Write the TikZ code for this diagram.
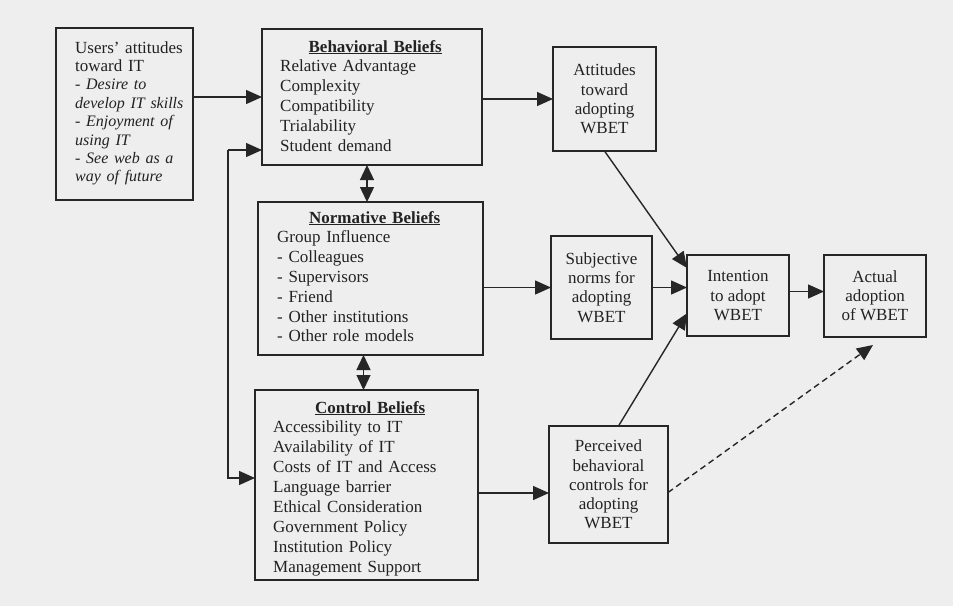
\documentclass[tikz,border=0pt]{standalone}
\usepackage{fontspec}
\setmainfont{Liberation Serif}
\usetikzlibrary{arrows.meta,calc}
\definecolor{linec}{HTML}{262626}
\definecolor{textc}{HTML}{222222}
\definecolor{bgc}{HTML}{EEEEEE}
\begin{document}
\begin{tikzpicture}[x=1pt,y=-1pt,
  box/.style={draw=linec, line width=1.5pt, inner sep=0pt, outer sep=0pt},
  sbox/.style={box, align=center, text=textc, font=\fontsize{17}{19.2}\selectfont},
  txt/.style={inner sep=0pt, anchor=base west, align=left, text=textc},
  arr/.style={draw=linec, line width=1.4pt, -{Triangle[length=16pt,width=14pt]}},
  dbl/.style={draw=linec, line width=1.4pt, {Triangle[length=15pt,width=14pt]}-{Triangle[length=15pt,width=14pt]}},
  dsh/.style={arr, dash pattern=on 6pt off 4pt}
]
\fill[bgc] (0,0) rectangle (953,606);
\useasboundingbox (0,0) rectangle (953,606);

% boxes
\node[box, minimum width=137pt, minimum height=172pt] (users) at (124.5,114) {};
\node[box, minimum width=220pt, minimum height=136pt] (beh) at (372,97) {};
\node[box, minimum width=225pt, minimum height=153pt] (norm) at (370.5,278.5) {};
\node[box, minimum width=223pt, minimum height=190pt] (ctl) at (366.5,485) {};

\node[sbox, minimum width=103pt, minimum height=104pt] (att) at (604.5,99) {Attitudes\\toward\\adopting\\WBET};
\node[sbox, minimum width=101pt, minimum height=103pt] (subj) at (601.5,287.5) {Subjective\\norms for\\adopting\\WBET};
\node[sbox, minimum width=102pt, minimum height=81pt] (int) at (738,295.5) {Intention\\to adopt\\WBET};
\node[sbox, minimum width=102pt, minimum height=82pt] (act) at (875,296) {Actual\\adoption\\of WBET};
\node[sbox, minimum width=119pt, minimum height=117pt] (perc) at (608.5,484.5) {Perceived\\behavioral\\controls for\\adopting\\WBET};

% texts of the large boxes
\node[txt, text width=125pt, font=\fontsize{17}{18.4}\selectfont] (usersT) at (75,53)
  {Users’ attitudes\\toward IT\\{\fontsize{16}{18.4}\selectfont\itshape - Desire to}\\{\fontsize{16}{18.4}\selectfont\itshape develop IT skills}\\{\fontsize{16}{18.4}\selectfont\itshape - Enjoyment of}\\{\fontsize{16}{18.4}\selectfont\itshape using IT}\\{\fontsize{16}{18.4}\selectfont\itshape - See web as a}\\{\fontsize{16}{18.4}\selectfont\itshape way of future}};
\node[txt, text width=190pt, font=\fontsize{17}{19.8}\selectfont] (behT) at (280,52)
  {\makebox[190pt][c]{\textbf{\underline{Behavioral Beliefs}}}\\Relative Advantage\\Complexity\\Compatibility\\Trialability\\Student demand};
\node[txt, text width=195pt, font=\fontsize{17}{19.8}\selectfont] (normT) at (277,223)
  {\makebox[195pt][c]{\textbf{\underline{Normative Beliefs}}}\\Group Influence\\- Colleagues\\- Supervisors\\- Friend\\- Other institutions\\- Other role models};
\node[txt, text width=194pt, font=\fontsize{17}{19.9}\selectfont] (ctlT) at (273,413)
  {\makebox[194pt][c]{\textbf{\underline{Control Beliefs}}}\\Accessibility to IT\\Availability of IT\\Costs of IT and Access\\Language barrier\\Ethical Consideration\\Government Policy\\Institution Policy\\Management Support};

% connectors
\draw[arr] (users.east |- beh.west) -- (beh.west);
\coordinate (vtop) at (228,150);
\coordinate (vbot) at (228,478);
\draw[arr] (vtop) -- (vtop -| beh.west);
\draw[arr] (vtop) -- (vbot) -- (vbot -| ctl.west);
\draw[arr] (beh.east |- att.west) -- (att.west);
\draw[arr] (norm.east |- subj.west) -- (subj.west);
\coordinate (cp) at (0,493);
\draw[arr] (ctl.east |- cp) -- (perc.west |- cp);
\coordinate (d1) at ($(beh.south)+(-5,0)$);
\draw[dbl] (d1) -- (d1 |- norm.north);
\coordinate (d2) at ($(norm.south)+(-7,0)$);
\draw[dbl] (d2) -- (d2 |- ctl.north);
\draw[arr] (att.south) -- ($(int.north west)!0.16!(int.south west)$);
\draw[arr] ($(perc.north)+(10,0)$) -- ($(int.north west)!0.72!(int.south west)$);
\draw[arr] (subj.east) -- (subj.east -| int.west);
\coordinate (ia) at ($(int.east)+(0,-4)$);
\draw[arr] (ia) -- (ia -| act.west);
\draw[dsh] ($(perc.east)+(0,8)$) -- ($(act.south)+(-2,8)$);
\end{tikzpicture}
\end{document}
